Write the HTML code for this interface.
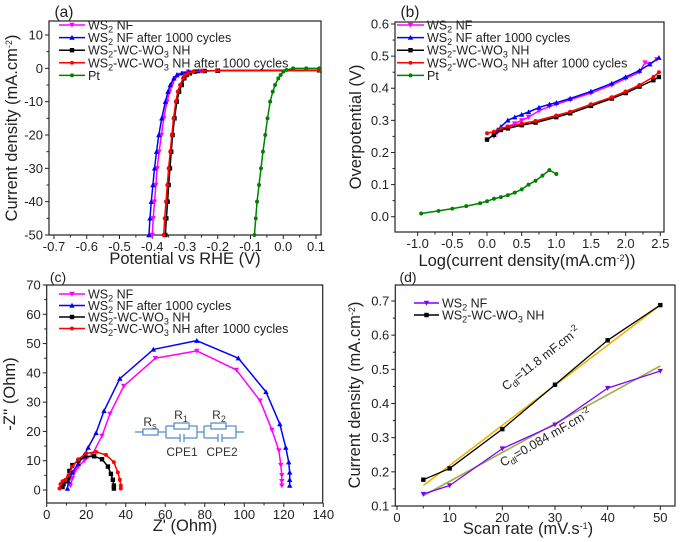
<!DOCTYPE html>
<html><head><meta charset="utf-8"><style>
html,body{margin:0;padding:0;background:#fff;}
svg{display:block;font-family:"Liberation Sans",sans-serif;}
</style></head><body>
<svg id="fig" width="685" height="542" viewBox="0 0 685 542" xmlns="http://www.w3.org/2000/svg"></svg>
<script>
// ---------- Panel (a) data: LSV ----------
const aCurrent = [-50,-45,-40,-35,-30,-25,-20,-15,-10,-7,-5,-3,-2,-1.5,-1,-0.8,-0.7,-0.6];
const aWS2 = [-0.400,-0.397,-0.393,-0.389,-0.385,-0.379,-0.372,-0.365,-0.355,-0.347,-0.340,-0.330,-0.320,-0.305,-0.29,-0.25,-0.2,0.11];
const aWS2after = [-0.410,-0.407,-0.403,-0.398,-0.393,-0.387,-0.380,-0.371,-0.360,-0.352,-0.345,-0.334,-0.325,-0.31,-0.29,-0.26,-0.2,0.11];
const aNH = [-0.360,-0.357,-0.353,-0.350,-0.346,-0.342,-0.338,-0.332,-0.325,-0.318,-0.310,-0.302,-0.295,-0.285,-0.27,-0.24,-0.2,0.11];
const aNHafter = [-0.365,-0.362,-0.358,-0.354,-0.350,-0.345,-0.340,-0.335,-0.328,-0.322,-0.315,-0.306,-0.300,-0.29,-0.275,-0.245,-0.2,0.11];
const aPtCurrent = [-50,-45,-40,-35,-30,-25,-20,-15,-10,-7,-5,-3,-2,-1,-0.5,0,0,0];
const aPt = [-0.088,-0.084,-0.080,-0.074,-0.068,-0.062,-0.055,-0.048,-0.040,-0.032,-0.025,-0.015,-0.008,0.0,0.01,0.03,0.07,0.11];
const aXTicks = [-0.7,-0.6,-0.5,-0.4,-0.3,-0.2,-0.1,0.0,0.1];
const aYTicks = [10,0,-10,-20,-30,-40,-50];
// ---------- Panel (b) data: Tafel ----------
const bWS2x = [0.1,0.15,0.2,0.3,0.4,0.5,0.6,0.75,0.9,1.0,1.2,1.5,1.8,2.0,2.2,2.28,2.35,2.45];
const bWS2y = [0.25,0.262,0.27,0.28,0.29,0.30,0.31,0.33,0.343,0.35,0.364,0.385,0.41,0.43,0.45,0.48,0.475,0.49];
const bWS2afterX = [0.1,0.15,0.2,0.3,0.4,0.5,0.6,0.75,0.9,1.0,1.2,1.5,1.8,2.0,2.2,2.35,2.48];
const bWS2afterY = [0.255,0.27,0.28,0.30,0.31,0.318,0.326,0.34,0.35,0.355,0.368,0.39,0.415,0.435,0.455,0.475,0.495];
const bNHx = [0.0,0.1,0.2,0.3,0.5,0.7,1.0,1.2,1.5,1.8,2.0,2.2,2.4,2.48];
const bNHy = [0.24,0.255,0.27,0.275,0.285,0.293,0.31,0.322,0.345,0.368,0.385,0.405,0.425,0.435];
const bNHafterX = [0.0,0.1,0.2,0.3,0.5,0.7,1.0,1.2,1.5,1.8,2.0,2.2,2.4,2.48];
const bNHafterY = [0.26,0.265,0.275,0.28,0.29,0.298,0.315,0.327,0.35,0.372,0.39,0.41,0.435,0.45];
const bPtx = [-0.95,-0.7,-0.5,-0.3,-0.1,0.0,0.1,0.2,0.3,0.4,0.5,0.6,0.7,0.8,0.9,1.0];
const bPty = [0.01,0.018,0.025,0.033,0.042,0.048,0.056,0.061,0.067,0.075,0.085,0.10,0.112,0.128,0.145,0.133];
const bXTicks = [-1.0,-0.5,0.0,0.5,1.0,1.5,2.0,2.5];
const bYTicks = [0.0,0.1,0.2,0.3,0.4,0.5,0.6];
// ---------- Panel (c) data: Nyquist ----------
const cWS2x = [12,13,14,16,19,23,28,32,39,55,76,96,108,114,117.5,118.5,119,119,119];
const cWS2y = [1.5,4,6,8,10,12,18.5,26,35.5,45,47.5,41,30.5,20.5,13.5,8.5,5,3,1.5];
const cWS2afterX = [10.5,11,13,16,19,21,25,29,37,54,76,97,111,118,121,122.5,123,123,123];
const cWS2afterY = [0.5,3,6,9,12,14.5,19.5,27,38,48,51,45,33.5,22.5,14.5,9.5,6,3.5,1.5];
const cNHx = [8,8.5,9.5,11,11.5,13,16,19.5,24,28,31,32.5,33.5,34,34];
const cNHy = [1,2,3,4,6.5,8.5,10,11.5,11.5,10.5,8,5.5,3.5,1.5,0.5];
const cNHafterX = [6.5,7,8,9.5,11,13,16,20,25,30,34,36,37,37.5,37.5];
const cNHafterY = [0.5,2,3,3.5,5,8,10.5,12.5,13,12,9.5,6,3.5,1.5,0.5];
const cXTicks = [0,20,40,60,80,100,120,140];
const cYTicks = [0,10,20,30,40,50,60,70];
// ---------- Panel (d) data: Cdl ----------
const dScan = [5,10,20,30,40,50];
const dWS2 = [0.135,0.16,0.268,0.338,0.445,0.495];
const dNH = [0.177,0.21,0.325,0.455,0.585,0.688];
const dFitNH = [0.16,0.688];
const dFitWS2 = [0.13,0.51];
const dXTicks = [0,10,20,30,40,50];
const dYTicks = [0.1,0.2,0.3,0.4,0.5,0.6,0.7];

const NS = "http://www.w3.org/2000/svg";
const svg = document.getElementById('fig');
function mk(tag, attrs, parent){
  const e = document.createElementNS(NS, tag);
  for (const k in attrs) e.setAttribute(k, attrs[k]);
  (parent||svg).appendChild(e);
  return e;
}
function scale(d0,d1,r0,r1){ return v => r0 + (v-d0)*(r1-r0)/(d1-d0); }

function axes(g, L,T,R,B, sx, sy, xt, yt, xfmt, yfmt){
  const box = mk('rect',{x:L,y:T,width:R-L,height:B-T,fill:'none',stroke:'#222','stroke-width':1.2},g);
  
  
  xt.forEach((v,i)=>{
    const x = sx(v);
    mk('line',{x1:x,x2:x,y1:B,y2:B+4,stroke:'#222','stroke-width':1},g);
    if (i<xt.length-1){ const xm=(x+sx(xt[i+1]))/2; mk('line',{x1:xm,x2:xm,y1:B,y2:B+2.5,stroke:'#222','stroke-width':1},g); }
    const t = mk('text',{x:x,y:B+16,'font-size':13,'text-anchor':'middle',fill:'#222'},g);
    t.textContent = xfmt(v);
    
    
  });
  yt.forEach((v,i)=>{
    const y = sy(v);
    mk('line',{x1:L-4,x2:L,y1:y,y2:y,stroke:'#222','stroke-width':1},g);
    if (i<yt.length-1){ const ym=(y+sy(yt[i+1]))/2; mk('line',{x1:L-2.5,x2:L,y1:ym,y2:ym,stroke:'#222','stroke-width':1},g); }
    const t = mk('text',{x:L-6,y:y+4.5,'font-size':13,'text-anchor':'end',fill:'#222'},g);
    t.textContent = yfmt(v);
    
    
  });
}
function marker(g,type,x,y,c,s){
  s = s||2.2;
  if(type==='sq') mk('rect',{x:x-s,y:y-s,width:2*s,height:2*s,fill:c},g);
  else if(type==='tu') mk('polygon',{points:`${x},${y-s-0.5} ${x-s-0.5},${y+s} ${x+s+0.5},${y+s}`,fill:c},g);
  else if(type==='td') mk('polygon',{points:`${x},${y+s+0.5} ${x-s-0.5},${y-s} ${x+s+0.5},${y-s}`,fill:c},g);
  else mk('circle',{cx:x,cy:y,r:s*0.9,fill:c},g);
}
function series(g,name,xs,ys,sx,sy,c,type,w){
  const sg = mk('g',{},g);
  
  
  const pts = xs.map((x,i)=>sx(x)+','+sy(ys[i])).join(' ');
  mk('polyline',{points:pts,fill:'none',stroke:c,'stroke-width':w||1.5,'stroke-linejoin':'round'},sg);
  xs.forEach((x,i)=>marker(sg,type,sx(x),sy(ys[i]),c));
}
function legend(g,x0,y0,dy,items,len,fs){
  items.forEach((it,i)=>{
    const y=y0+i*dy;
    const lg = mk('g',{},g);
    
    
    mk('line',{x1:x0,x2:x0+len,y1:y,y2:y,stroke:it.c,'stroke-width':1.5},lg);
    marker(lg,it.t,x0+len/2,y,it.c);
    const t = mk('text',{x:x0+len+3,y:y+4.5,'font-size':fs||12.5,fill:'#222'},lg);
    t.innerHTML = it.label;
  });
}
function label(g,x,y,txt,name,rot,fs){
  const t = mk('text',{x:x,y:y,'font-size':fs||15.5,'text-anchor':'middle',fill:'#222'},g);
  if(rot) t.setAttribute('transform',`rotate(-90 ${x} ${y})`);
  t.innerHTML = txt;
  
  
  return t;
}
const sub = s=>`<tspan font-size="9" baseline-shift="-3">${s}</tspan>`;
const sup = s=>`<tspan font-size="9" baseline-shift="5">${s}</tspan>`;
const WS2 = 'WS'+sub('2');
const NH = 'WS'+sub('2')+'-WC-WO'+sub('3')+' NH';

// ===== Panel A =====
{
const g = mk('g',{});  
const L=49,T=21,R=321,B=235;
const sx=scale(-0.7,0.1,54,316), sy=scale(10,-50,35,235);
axes(g,L,T,R,B,sx,sy,aXTicks,aYTicks,v=>v.toFixed(1),v=>String(v));
series(g,'series-ws2-nf',aWS2,aCurrent,sx,sy,'#ff00ff','td');
series(g,'series-ws2-nf-after',aWS2after,aCurrent,sx,sy,'#0000ff','tu');
series(g,'series-ws2-wc-wo3-nh',aNH,aCurrent,sx,sy,'#000000','sq');
series(g,'series-ws2-wc-wo3-nh-after',aNHafter,aCurrent,sx,sy,'#ff0000','c');
series(g,'series-pt',aPt,aPtCurrent,sx,sy,'#008000','c');
legend(g,59,25,12.6,[{c:'#ff00ff',t:'td',label:WS2+' NF'},{c:'#0000ff',t:'tu',label:WS2+' NF  after 1000 cycles'},{c:'#000',t:'sq',label:NH},{c:'#ff0000',t:'c',label:NH+'  after 1000 cycles'},{c:'#008000',t:'c',label:'Pt'}],26);
label(g,64,17,'(a)','panel-label-a',false,15.5);
label(g,185,264,'Potential vs RHE (V)','x-axis-title-a',false,16.5);
label(g,17,128,'Current density (mA.cm'+sup('-2')+')','y-axis-title-a',true,16.5);
}
// ===== Panel B =====
{
const g = mk('g',{});  
const L=395,T=22,R=664,B=232;
const sx=scale(-1,2.5,417.7,660.3), sy=scale(0,0.6,216.7,24);
axes(g,L,T,R,B,sx,sy,bXTicks,bYTicks,v=>v.toFixed(1),v=>v.toFixed(1));
series(g,'series-ws2-nf',bWS2x,bWS2y,sx,sy,'#ff00ff','td');
series(g,'series-ws2-nf-after',bWS2afterX,bWS2afterY,sx,sy,'#0000ff','tu');
series(g,'series-ws2-wc-wo3-nh',bNHx,bNHy,sx,sy,'#000000','sq');
series(g,'series-ws2-wc-wo3-nh-after',bNHafterX,bNHafterY,sx,sy,'#ff0000','c');
series(g,'series-pt',bPtx,bPty,sx,sy,'#008000','c');
legend(g,397,25,12.6,[{c:'#ff00ff',t:'td',label:WS2+' NF'},{c:'#0000ff',t:'tu',label:WS2+' NF  after 1000 cycles'},{c:'#000',t:'sq',label:NH},{c:'#ff0000',t:'c',label:NH+'  after 1000 cycles'},{c:'#008000',t:'c',label:'Pt'}],27);
label(g,410,17,'(b)','panel-label-b',false,15.5);
label(g,527,266,'Log(current density(mA.cm'+sup('-2')+'))','x-axis-title-b',false,16.5);
label(g,361,127,'Overpotential (V)','y-axis-title-b',true,16.5);
}
// ===== Panel C =====
{
const g = mk('g',{});  
const L=46.7,T=285,R=322.7,B=503;
const sx=scale(0,140,46.7,323.3), sy=scale(0,70,490,285);
axes(g,L,T,R,B,sx,sy,cXTicks,cYTicks,v=>String(v),v=>String(v));
series(g,'series-ws2-nf',cWS2x,cWS2y,sx,sy,'#ff00ff','td');
series(g,'series-ws2-nf-after',cWS2afterX,cWS2afterY,sx,sy,'#0000ff','tu');
series(g,'series-ws2-wc-wo3-nh',cNHx,cNHy,sx,sy,'#000000','sq');
series(g,'series-ws2-wc-wo3-nh-after',cNHafterX,cNHafterY,sx,sy,'#ff0000','c');
legend(g,59,294,11.5,[{c:'#ff00ff',t:'td',label:WS2+' NF'},{c:'#0000ff',t:'tu',label:WS2+' NF  after 1000 cycles'},{c:'#000',t:'sq',label:NH},{c:'#ff0000',t:'c',label:NH+'  after 1000 cycles'}],26);
label(g,58,282,'(c)','panel-label-c',false,14);
label(g,185,531,"Z' (Ohm)",'x-axis-title-c',false,16.5);
label(g,15,394,"-Z'' (Ohm)",'y-axis-title-c',true,16.5);
// equivalent circuit inset
const ci = mk('g',{stroke:'#5b8fd0','stroke-width':1.3,fill:'none'},g);


mk('line',{x1:135,x2:143,y1:432,y2:432},ci);
mk('rect',{x:143,y:429,width:15,height:6},ci);
mk('line',{x1:158,x2:166,y1:432,y2:432},ci);
mk('polyline',{points:'166,426 166,438'},ci);
mk('polyline',{points:'166,426 174,426'},ci);mk('rect',{x:174,y:423,width:15,height:6},ci);mk('polyline',{points:'189,426 197,426 197,438'},ci);
mk('polyline',{points:'166,438 180,438'},ci);mk('line',{x1:180,x2:180,y1:434,y2:442},ci);mk('line',{x1:184,x2:184,y1:434,y2:442},ci);mk('polyline',{points:'184,438 197,438'},ci);
mk('line',{x1:197,x2:204,y1:432,y2:432},ci);
mk('polyline',{points:'204,426 204,438'},ci);
mk('polyline',{points:'204,426 211,426'},ci);mk('rect',{x:211,y:423,width:15,height:6},ci);mk('polyline',{points:'226,426 236,426 236,438'},ci);
mk('polyline',{points:'204,438 218,438'},ci);mk('line',{x1:218,x2:218,y1:434,y2:442},ci);mk('line',{x1:222,x2:222,y1:434,y2:442},ci);mk('polyline',{points:'222,438 236,438'},ci);
mk('line',{x1:236,x2:244,y1:432,y2:432},ci);
const ct=[[150,426,'R'+sub('s')],[181,419,'R'+sub('1')],[219,419,'R'+sub('2')],[182,456,'CPE1'],[222,456,'CPE2']];
ct.forEach(a=>{const t=mk('text',{x:a[0],y:a[1],'font-size':12,'text-anchor':'middle',fill:'#333'},g);t.innerHTML=a[2];

});
}
// ===== Panel D =====
{
const g = mk('g',{});  
const L=395.3,T=285,R=675,B=506;
const sx=scale(0,50,397,660.3), sy=scale(0.1,0.7,506,301);
axes(g,L,T,R,B,sx,sy,dXTicks,dYTicks,v=>String(v),v=>v.toFixed(1));
const f1=mk('line',{x1:sx(dScan[0]),x2:sx(dScan[dScan.length-1]),y1:sy(dFitNH[0]),y2:sy(dFitNH[1]),stroke:'#f0b400','stroke-width':1.6},g);


const f2=mk('line',{x1:sx(dScan[0]),x2:sx(dScan[dScan.length-1]),y1:sy(dFitWS2[0]),y2:sy(dFitWS2[1]),stroke:'#9bb040','stroke-width':1.6},g);


series(g,'series-ws2-nf',dScan,dWS2,sx,sy,'#8000ff','td',1.3);
series(g,'series-ws2-wc-wo3-nh',dScan,dNH,sx,sy,'#000000','sq',1.3);
legend(g,414,303,12,[{c:'#8000ff',t:'td',label:WS2+' NF'},{c:'#000',t:'sq',label:NH}],25);
label(g,408,282,'(d)','panel-label-d',false,14);
label(g,528,534,'Scan rate (mV.s'+sup('-1')+')','x-axis-title-d',false,16.5);
label(g,360,395,'Current density (mA.cm'+sup('-2')+')','y-axis-title-d',true,16.5);
const a1=mk('text',{x:506,y:391,'font-size':12.5,fill:'#222',transform:'rotate(-38 506 391)'},g);
a1.innerHTML='C'+sub('dl')+'=11.8 mF.cm'+sup('-2');


const a2=mk('text',{x:503,y:467,'font-size':12.5,fill:'#222',transform:'rotate(-30 503 467)'},g);
a2.innerHTML='C'+sub('dl')+'=0.084 mF.cm'+sup('-2');


}
</script>
</body></html>
